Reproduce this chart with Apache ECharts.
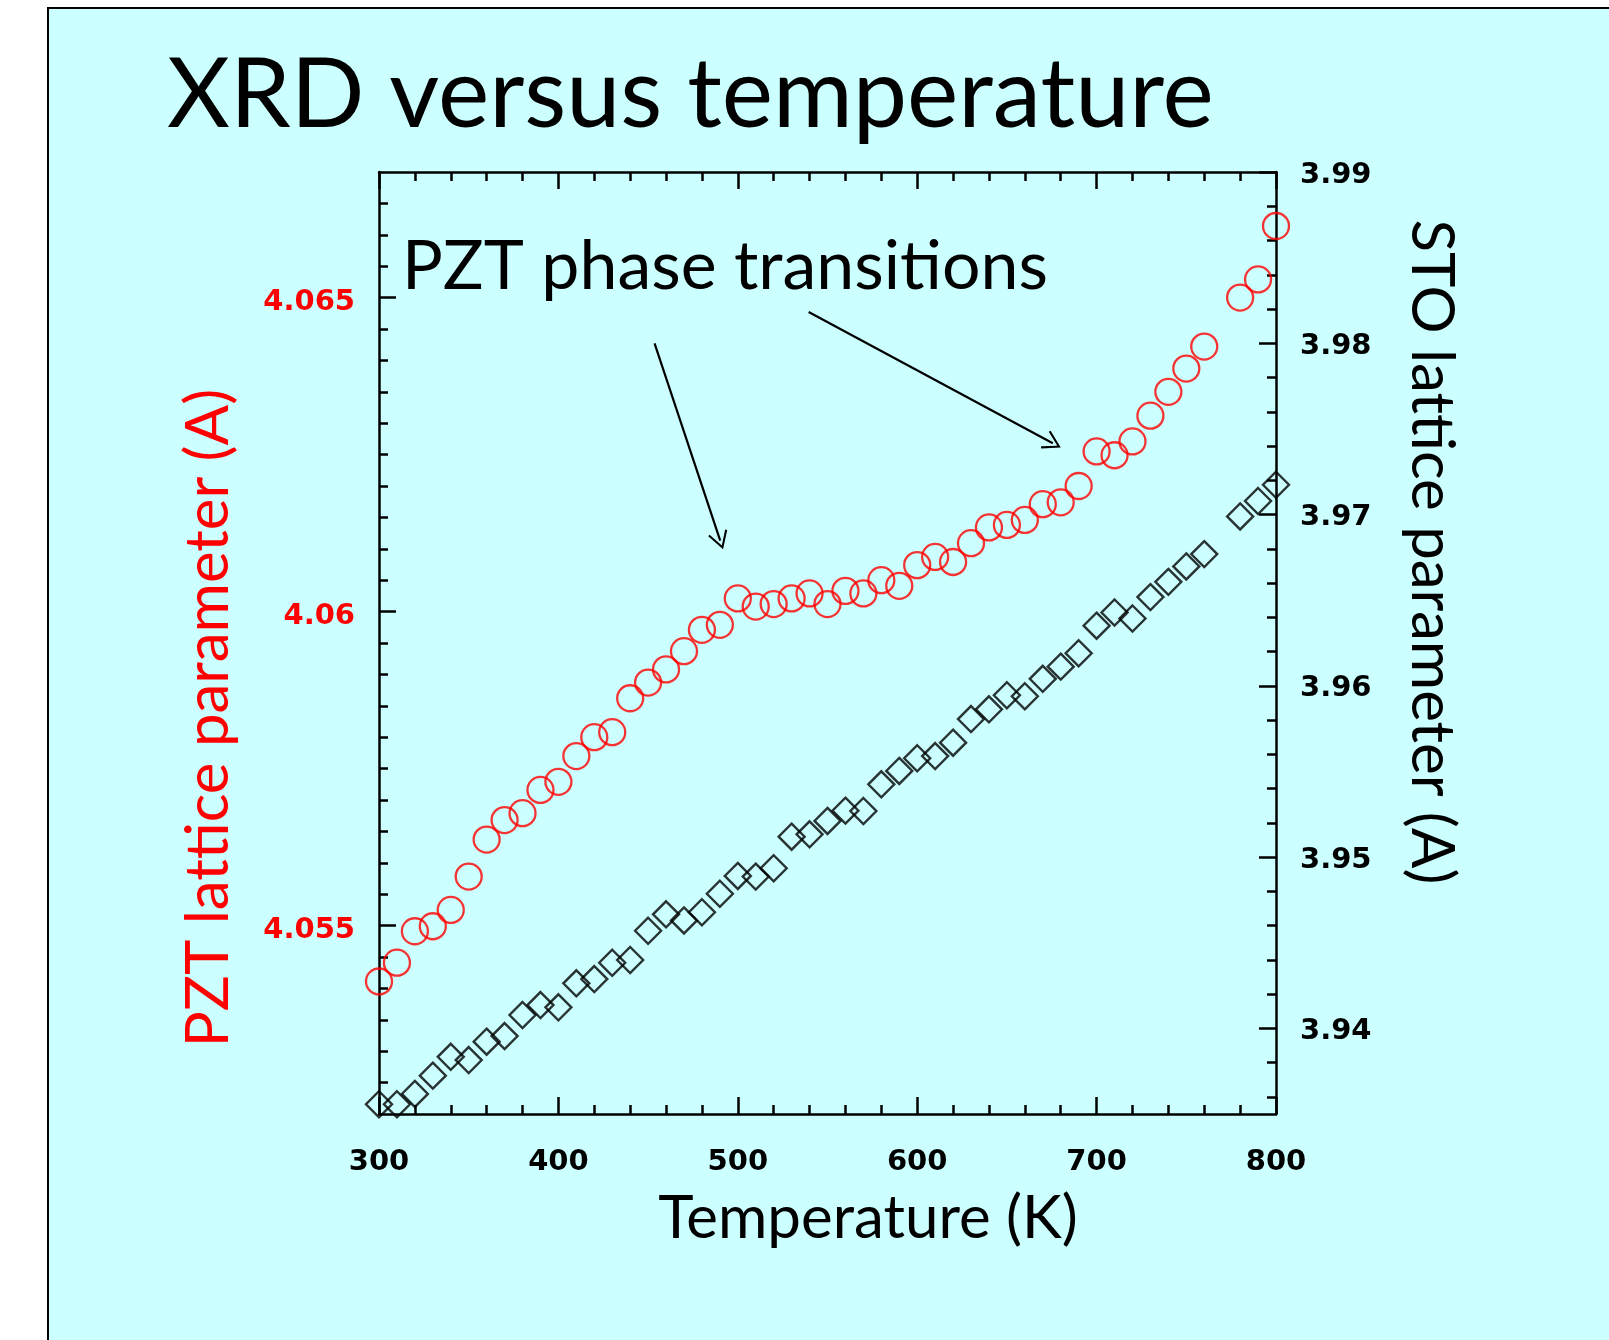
<!DOCTYPE html>
<html>
<head>
<meta charset="utf-8">
<title>XRD versus temperature</title>
<script src="https://cdn.jsdelivr.net/npm/echarts@6/dist/echarts.min.js"></script>
<style>
  html, body { margin: 0; padding: 0; background: #fff; overflow: hidden; }
  #frame { position: absolute; left: 47px; top: 7px; width: 1700px; height: 1400px;
           background: #CCFFFF; border: 2px solid #000; }
  #chart { position: absolute; left: 0; top: 0; width: 1609px; height: 1340px; }
</style>
</head>
<body>
<div id="frame"></div>
<div id="chart"></div>
<script>
// temperatures (K)
const temps = [300, 310, 320, 330, 340, 350, 360, 370, 380, 390,
  400, 410, 420, 430, 440, 450, 460, 470, 480, 490,
  500, 510, 520, 530, 540, 550, 560, 570, 580, 590,
  600, 610, 620, 630, 640, 650, 660, 670, 680, 690,
  700, 710, 720, 730, 740, 750, 760, 780, 790, 800]
// PZT lattice parameter (A), left axis
const pztValues = [4.05411, 4.05441, 4.05491, 4.05499, 4.05525, 4.05578, 4.05637, 4.05668, 4.05679, 4.05716,
  4.05729, 4.05770, 4.05800, 4.05808, 4.05862, 4.05887, 4.05908, 4.05937, 4.05971, 4.05979,
  4.06021, 4.06008, 4.06012, 4.06021, 4.06029, 4.06012, 4.06033, 4.06029, 4.06050, 4.06041,
  4.06074, 4.06087, 4.06079, 4.06109, 4.06134, 4.06138, 4.06146, 4.06171, 4.06174, 4.06200,
  4.06255, 4.06249, 4.06271, 4.06312, 4.06350, 4.06387, 4.06422, 4.06500, 4.06529, 4.06614]
// STO lattice parameter (A), right axis
const stoValues = [3.93557, 3.93557, 3.93617, 3.93724, 3.93834, 3.93815, 3.93922, 3.93955, 3.94078, 3.94136,
  3.94123, 3.94263, 3.94288, 3.94383, 3.94399, 3.94570, 3.94666, 3.94630, 3.94678, 3.94786,
  3.94890, 3.94886, 3.94935, 3.95119, 3.95133, 3.95211, 3.95271, 3.95269, 3.95425, 3.95503,
  3.95577, 3.95590, 3.95668, 3.95806, 3.95863, 3.95945, 3.95939, 3.96041, 3.96112, 3.96190,
  3.96351, 3.96428, 3.96393, 3.96518, 3.96607, 3.96697, 3.96769, 3.96989, 3.97079, 3.97174]

// tick labels
const pztTicks = [4.055, 4.06, 4.065]
const stoTicks = [3.94, 3.95, 3.96, 3.97, 3.98, 3.99]

// annotation arrows, [start, end] in (K, PZT A)
const arrowFrom = [[453.6, 4.06427], [539.5, 4.06477]]
const arrowTo = [[490.2, 4.06113], [675.6, 4.06268]]

function steps(from, to, step, digits) {
  const out = []
  for (let v = from; v <= to + step / 2; v += step) out.push(+v.toFixed(digits))
  return out
}
const pztMinor = steps(4.0525, 4.0665, 0.0005, 4)
const stoMinor = steps(3.936, 3.988, 0.002, 3)

// zero-width non-joiner keeps Lato from drawing its "ti" ligature
const nj = '\u200C'

const numFont = { fontFamily: 'DejaVu Sans', fontWeight: 'bold', fontSize: 29 }
const lineBlack = { show: true, lineStyle: { color: '#000', width: 2.5 } }
const bigTick = { show: true, inside: true, length: 17, lineStyle: { color: '#000', width: 2.5 } }
const smallTick = { show: true, inside: true, length: 9, lineStyle: { color: '#000', width: 2.5 } }

// y labels sit a few px below their tick in the original
function yLabel(color, padTop) {
  return {
    margin: 24,
    formatter: v => '{a|' + v + '}',
    rich: { a: Object.assign({ color: color, padding: [padTop, 0, 0, 0] }, numFont) }
  }
}

const chart = echarts.init(document.getElementById('chart'), null, { renderer: 'canvas' })
chart.setOption({
  animation: false,
  backgroundColor: 'transparent',
  grid: { left: 379, top: 172, width: 897, height: 942, containLabel: false },
  xAxis: [
    {
      type: 'value', position: 'bottom', min: 300, max: 800, interval: 100,
      axisLine: lineBlack, axisTick: bigTick,
      minorTick: { show: true, splitNumber: 5, length: 9, lineStyle: { color: '#000', width: 2.5 } },
      axisLabel: Object.assign({ color: '#000', margin: 34 }, numFont),
      splitLine: { show: false }
    },
    {
      // top frame with mirrored ticks
      type: 'value', position: 'top', min: 300, max: 800, interval: 100,
      axisLine: lineBlack, axisTick: bigTick,
      minorTick: { show: true, splitNumber: 5, length: 9, lineStyle: { color: '#000', width: 2.5 } },
      axisLabel: { show: false },
      splitLine: { show: false }
    }
  ],
  yAxis: [
    {
      type: 'value', position: 'left', min: 4.052, max: 4.067,
      axisLine: lineBlack,
      axisTick: Object.assign({ customValues: pztTicks }, bigTick),
      axisLabel: Object.assign({ customValues: pztTicks }, yLabel('#FF0000', 10)),
      splitLine: { show: false }
    },
    {
      type: 'value', position: 'left', min: 4.052, max: 4.067,
      axisLine: { show: false },
      axisTick: Object.assign({ customValues: pztMinor }, smallTick),
      axisLabel: { show: false },
      splitLine: { show: false }
    },
    {
      type: 'value', position: 'right', min: 3.935, max: 3.99,
      axisLine: lineBlack,
      axisTick: Object.assign({ customValues: stoTicks }, bigTick),
      axisLabel: Object.assign({ customValues: stoTicks }, yLabel('#000', 6)),
      splitLine: { show: false }
    },
    {
      type: 'value', position: 'right', min: 3.935, max: 3.99,
      axisLine: { show: false },
      axisTick: Object.assign({ customValues: stoMinor }, smallTick),
      axisLabel: { show: false },
      splitLine: { show: false }
    }
  ],
  series: [
    {
      name: 'PZT',
      type: 'scatter',
      xAxisIndex: 0,
      yAxisIndex: 0,
      clip: false,
      symbol: 'circle',
      symbolSize: 26,
      itemStyle: { color: 'rgba(0,0,0,0)', borderColor: '#FF0000', borderWidth: 2.3 },
      data: temps.map((t, i) => [t, pztValues[i]]),
      markLine: {
        silent: true,
        animation: false,
        symbol: ['none', 'path://M10,0 L20,18 L18.2,19.2 L10,4.2 L1.8,19.2 L0,18 Z'],
        symbolSize: [20, 18],
        label: { show: false },
        lineStyle: { color: '#000', width: 2.2, type: 'solid' },
        itemStyle: { color: '#000' },
        emphasis: { disabled: true },
        data: arrowFrom.map((p, i) => [{ coord: p }, { coord: arrowTo[i] }])
      }
    },
    {
      name: 'STO',
      type: 'scatter',
      xAxisIndex: 0,
      yAxisIndex: 2,
      clip: false,
      symbol: 'diamond',
      symbolSize: 26,
      itemStyle: { color: 'rgba(0,0,0,0)', borderColor: '#000', borderWidth: 2.4 },
      data: temps.map((t, i) => [t, stoValues[i]])
    }
  ],
  graphic: [
    {
      type: 'text', x: 167, y: 96, silent: true,
      style: { text: 'XRD versus temperature', fontFamily: 'Lato', fontSize: 97, fill: '#000', align: 'left', verticalAlign: 'middle' }
    },
    {
      type: 'text', x: 402, y: 267, silent: true,
      style: { text: 'PZT phase transi' + nj + 'ti' + nj + 'ons', fontFamily: 'Lato', fontSize: 68, fill: '#000', align: 'left', verticalAlign: 'middle' }
    },
    {
      type: 'text', x: 868, y: 1219, silent: true,
      style: { text: 'Temperature (K)', fontFamily: 'Lato', fontSize: 60, fill: '#000', align: 'center', verticalAlign: 'middle' }
    },
    {
      type: 'text', x: 209, y: 718, rotation: Math.PI / 2, silent: true,
      style: { text: 'PZT lat' + nj + 'ti' + nj + 'ce parameter (A)', fontFamily: 'Lato', fontSize: 60, fill: '#FF0000', align: 'center', verticalAlign: 'middle' }
    },
    {
      type: 'text', x: 1431, y: 552, rotation: -Math.PI / 2, silent: true,
      style: { text: 'STO lat' + nj + 'ti' + nj + 'ce parameter (A)', fontFamily: 'Lato', fontSize: 60, fill: '#000', align: 'center', verticalAlign: 'middle' }
    }
  ]
})
</script>
</body>
</html>
